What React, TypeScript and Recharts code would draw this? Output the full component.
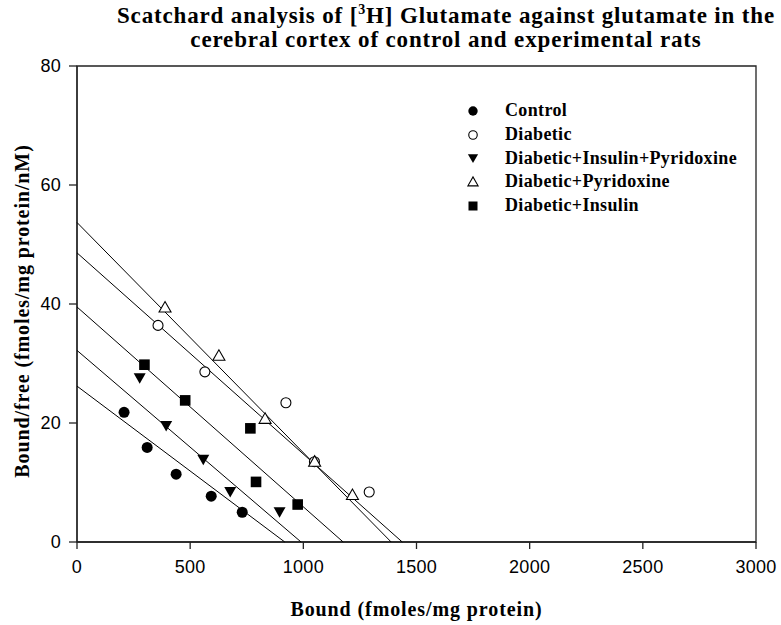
import { ScatterChart, Scatter, XAxis, YAxis, Label, ReferenceArea } from 'recharts';

const xTicks = [0, 500, 1000, 1500, 2000, 2500, 3000];
const yTicks = [0, 20, 40, 60, 80];

const seriesNames = ['Control', 'Diabetic', 'Diabetic+Insulin+Pyridoxine', 'Diabetic+Pyridoxine', 'Diabetic+Insulin'];

// bound (fmoles/mg protein) and bound/free ratio
const controlBound = [208, 310, 438, 593, 730];
const controlRatio = [21.8, 15.9, 11.4, 7.7, 5.0];
const diabeticBound = [358, 565, 923, 1049, 1291];
const diabeticRatio = [36.4, 28.6, 23.4, 13.5, 8.4];
const dipBound = [277, 394, 558, 677, 895];
const dipRatio = [27.6, 19.6, 13.9, 8.5, 5.1];
const dpBound = [389, 627, 831, 1050, 1217];
const dpRatio = [39.4, 31.3, 20.7, 13.5, 7.9];
const diBound = [298, 478, 766, 791, 975];
const diRatio = [29.8, 23.8, 19.1, 10.1, 6.3];

// regression lines: y-intercept and x-intercept
const controlFit = [26.2, 918];
const diabeticFit = [48.6, 1437];
const dipFit = [32.2, 990];
const dpFit = [53.7, 1388];
const diFit = [39.5, 1176];

type Kind = 'dot' | 'ring' | 'down' | 'up' | 'square';
const kinds: Kind[] = ['dot', 'ring', 'down', 'up', 'square'];

const pts = (xs: number[], ys: number[]) => xs.map((x, i) => ({ x, y: ys[i] }));
const fit = (f: number[]) => [{ x: 0, y: f[0] }, { x: f[1], y: 0 }];

function Marker({ cx, cy, kind, s = 1 }: { cx: number; cy: number; kind: Kind; s?: number }) {
  if (kind === 'dot') return <circle cx={cx} cy={cy} r={5.5 * s} fill="#000" />;
  if (kind === 'ring') return <circle cx={cx} cy={cy} r={5 * s} fill="#fff" stroke="#000" strokeWidth={1.1} />;
  if (kind === 'square') return <rect x={cx - 5.3 * s} y={cy - 5.3 * s} width={10.6 * s} height={10.6 * s} fill="#000" />;
  if (kind === 'down')
    return <polygon points={`${cx - 6 * s},${cy - 4.5 * s} ${cx + 6 * s},${cy - 4.5 * s} ${cx},${cy + 6 * s}`} fill="#000" />;
  return (
    <polygon
      points={`${cx - 6 * s},${cy + 4.5 * s} ${cx + 6 * s},${cy + 4.5 * s} ${cx},${cy - 6 * s}`}
      fill="#fff"
      stroke="#000"
      strokeWidth={1.1}
    />
  );
}

const noShape = () => <g />;
const serif = '"Liberation Serif", "Times New Roman", serif';
const sans = '"Liberation Sans", Arial, sans-serif';
const labelStyle = { fontFamily: serif, fontWeight: 'bold', fontSize: 20, letterSpacing: 0.9, fill: '#000' };

function YTitle(props: any) {
  const vb = props.viewBox || { x: 0, y: 0, height: 0 };
  const cy = vb.y + vb.height / 2 + 7;
  return (
    <text transform={`translate(22, ${cy}) rotate(-90)`} textAnchor="middle" dominantBaseline="central" style={labelStyle}>
      Bound/free (fmoles/mg protein/nM)
    </text>
  );
}

export default function App() {
  const scatters = [
    pts(controlBound, controlRatio),
    pts(diabeticBound, diabeticRatio),
    pts(dipBound, dipRatio),
    pts(dpBound, dpRatio),
    pts(diBound, diRatio),
  ];
  const fits = [controlFit, diabeticFit, dipFit, dpFit, diFit].map(fit);

  return (
    <div style={{ position: 'absolute', left: 0, top: 0, width: 781, height: 625, background: '#fff' }}>
      <div
        style={{
          position: 'absolute',
          left: 446,
          top: 4,
          transform: 'translateX(-50%)',
          whiteSpace: 'nowrap',
          textAlign: 'center',
          fontFamily: serif,
          fontWeight: 'bold',
          fontSize: 23,
          letterSpacing: 0.85,
          lineHeight: '24px',
        }}
      >
        Scatchard analysis of [<sup style={{ fontSize: 14, verticalAlign: 9, lineHeight: 0 }}>3</sup>H] Glutamate against glutamate in the
        <br />
        cerebral cortex of control and experimental rats
      </div>
      <ScatterChart width={781} height={625} margin={{ top: 66, right: 25, bottom: 0, left: 0 }}>
        <ReferenceArea x1={0} x2={3000} y1={0} y2={80} fill="none" stroke="#222" strokeWidth={1.3} fillOpacity={0} />
        <XAxis
          type="number"
          dataKey="x"
          domain={[0, 3000]}
          ticks={xTicks}
          height={83}
          tickSize={7}
          tickMargin={11}
          stroke="#222"
          strokeWidth={1.3}
          tick={{ fill: '#000', fontFamily: sans, fontSize: 18, letterSpacing: 0.3 }}
        >
          <Label value="Bound (fmoles/mg protein)" position="insideBottom" offset={9} style={labelStyle} />
        </XAxis>
        <YAxis
          type="number"
          dataKey="y"
          domain={[0, 80]}
          ticks={yTicks}
          width={77}
          tickSize={8}
          tickMargin={8}
          stroke="#222"
          strokeWidth={1.3}
          tick={{ fill: '#000', fontFamily: sans, fontSize: 18, letterSpacing: 0.3 }}
        >
          <Label content={YTitle} />
        </YAxis>
        {fits.map((d, i) => (
          <Scatter
            key={'fit' + i}
            data={d}
            line={{ stroke: '#000', strokeWidth: 1 }}
            shape={noShape}
            legendType="none"
            isAnimationActive={false}
          />
        ))}
        {scatters.map((d, i) => (
          <Scatter
            key={seriesNames[i]}
            name={seriesNames[i]}
            data={d}
            shape={(p: any) => <Marker cx={p.cx} cy={p.cy} kind={kinds[i]} />}
            isAnimationActive={false}
          />
        ))}
      </ScatterChart>
      <div style={{ position: 'absolute', left: 462, top: 99, fontFamily: serif, fontWeight: 'bold', fontSize: 18, letterSpacing: 0.35 }}>
        {seriesNames.map((n, i) => (
          <div key={n} style={{ display: 'flex', alignItems: 'center', height: 23.7 }}>
            <svg width={22} height={16} style={{ marginRight: 21, flexShrink: 0 }}>
              <Marker cx={11} cy={8} kind={kinds[i]} s={0.85} />
            </svg>
            <span>{n}</span>
          </div>
        ))}
      </div>
    </div>
  );
}
